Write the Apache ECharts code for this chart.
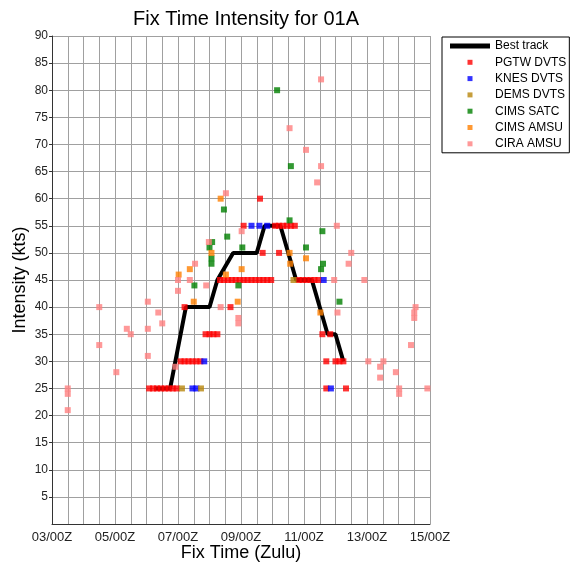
<!DOCTYPE html>
<html>
<head>
<meta charset="utf-8">
<script src="https://cdn.jsdelivr.net/npm/echarts@6/dist/echarts.min.js"></script>
<style>
  html, body { margin: 0; padding: 0; background: #fff; }
  #chart { width: 576px; height: 565px; }
</style>
</head>
<body>
<div id="chart"></div>
<script>
// x = hours after 03/00Z, y = intensity in kts
const START_DAY = 3;
const SPAN_HOURS = 288; // 03/00Z .. 15/00Z

const bestTrack = [[78, 25], [90, 25], [102, 40], [120, 40], [126, 45], [138, 50], [156, 50],
  [162, 55], [174, 55], [186, 45], [198, 45], [210, 35], [216, 35], [222, 30]];

const pgtwDvts = [
  [74, 25], [77, 25], [80, 25], [83, 25], [86, 25], [89, 25], [92, 25], [95, 25],
  [98, 30], [101, 30], [104, 30], [107, 30], [110, 30], [113, 30],
  [117, 35], [120, 35], [123, 35], [126, 35],
  [101, 40], [136, 40],
  [128, 45], [131, 45], [134, 45], [137, 45], [140, 45], [143, 45], [146, 45], [149, 45],
  [152, 45], [155, 45], [158, 45], [161, 45], [164, 45], [167, 45],
  [146, 55], [158.5, 60], [160.5, 50], [173, 50],
  [170, 55], [173, 55], [176, 55], [179, 55], [182, 55], [185, 55],
  [188, 45], [191, 45], [194, 45], [197, 45], [200, 45], [203, 45],
  [206, 35], [212, 35], [209, 30], [216, 30], [219, 30], [222, 30], [209, 25], [224, 25]
];
const knesDvts = [[107, 25], [110, 25], [116, 30], [152, 55], [158, 55], [164, 55], [207, 45], [212.5, 25]];
const demsDvts = [[99, 25], [113.5, 25], [184, 45]];
const cimsSatc = [[108.5, 44], [120, 51], [121.5, 49], [121.5, 48], [122, 52], [131, 58], [133.5, 53],
  [142, 44], [145, 51], [171.5, 80], [181, 56], [182, 66], [193.5, 51], [205, 47], [206.5, 48],
  [206, 54], [219, 41]];
const cimsAmsu = [[96.5, 46], [105, 47], [108, 41], [121.5, 50], [128.5, 60], [132.5, 46], [141.5, 41],
  [144.5, 47], [181, 50], [181.5, 48], [193.5, 49], [204.5, 39]];
const ciraAmsu = [[12, 25], [12, 24], [12, 21], [36, 40], [36, 33], [49, 28], [57, 36], [60, 35],
  [73, 41], [73, 36], [73, 31], [81, 39], [84, 37], [94, 29], [96, 45], [96, 43], [105, 45],
  [109, 48], [117.5, 44], [119.5, 52], [128.5, 40], [132.5, 61], [142, 38], [142, 37], [144.5, 54],
  [181, 73], [193.5, 69], [202, 63], [205, 82], [205, 66], [215, 45], [217, 55], [217.5, 39],
  [226, 48], [228, 50], [238, 45], [241, 30], [250, 29], [250, 27], [252.5, 30], [262, 28],
  [264.5, 25], [264.5, 24], [273.5, 33], [276, 39], [276, 38], [277, 40], [286, 25]];

const fixSeries = [
  { name: 'PGTW DVTS', data: pgtwDvts, color: '#ff0000' },
  { name: 'KNES DVTS', data: knesDvts, color: '#0000ff' },
  { name: 'DEMS DVTS', data: demsDvts, color: '#b8860b' },
  { name: 'CIMS SATC', data: cimsSatc, color: '#008000' },
  { name: 'CIMS AMSU', data: cimsAmsu, color: '#ff8000' },
  { name: 'CIRA AMSU', data: ciraAmsu, color: '#ff8080' }
];

const FONT = 'Liberation Sans';
const SQUARE = 'path://M0,0L10,0L10,10L0,10Z';
const BAR = 'path://M0,0L40,0L40,5L0,5Z';

function dayLabel(v) {
  if (v % 48 !== 0) return '';
  const d = START_DAY + v / 24;
  return (d < 10 ? '0' : '') + d + '/00Z';
}

const chart = echarts.init(document.getElementById('chart'), null, { renderer: 'canvas' });
chart.setOption({
  animation: false,
  backgroundColor: '#fff',
  textStyle: { fontFamily: FONT },
  title: {
    text: 'Fix Time Intensity for 01A',
    left: 241,
    textAlign: 'center',
    top: 4,
    textStyle: { fontFamily: FONT, fontSize: 20, fontWeight: 'normal', color: '#000' }
  },
  legend: {
    orient: 'vertical',
    left: 442,
    top: 37,
    padding: [3, 3, 3, 8],
    itemGap: 4.3,
    itemWidth: 40,
    itemHeight: 5,
    borderColor: '#000',
    borderWidth: 1,
    textStyle: { fontFamily: FONT, fontSize: 12, color: '#000' },
    data: [{ name: 'Best track', icon: BAR, itemStyle: { color: '#000' } }]
      .concat(fixSeries.map(s => ({ name: s.name, icon: SQUARE })))
  },
  grid: { left: 52, top: 36, right: 146, bottom: 41, outerBoundsMode: 'none', containLabel: false },
  xAxis: {
    type: 'value',
    min: 0,
    max: SPAN_HOURS,
    interval: 12,
    name: 'Fix Time (Zulu)',
    nameLocation: 'middle',
    nameGap: 20,
    nameMoveOverlap: false,
    nameTextStyle: { fontFamily: FONT, fontSize: 18, color: '#000' },
    axisLine: { lineStyle: { color: '#333', width: 1 } },
    axisTick: { show: false },
    axisLabel: { formatter: dayLabel, fontFamily: FONT, fontSize: 13, color: '#222', margin: 7, showMaxLabel: true },
    splitLine: { lineStyle: { color: '#a0a0a0', width: 1 } }
  },
  yAxis: {
    type: 'value',
    min: 0,
    max: 90,
    interval: 5,
    name: 'Intensity (kts)',
    nameLocation: 'middle',
    nameGap: 23,
    nameMoveOverlap: false,
    nameTextStyle: { fontFamily: FONT, fontSize: 18, color: '#000' },
    axisLine: { show: true, lineStyle: { color: '#333', width: 1 } },
    axisTick: { show: true, length: 3, lineStyle: { color: '#333' } },
    axisLabel: { showMinLabel: false, fontFamily: FONT, fontSize: 12, color: '#222', margin: 4 },
    splitLine: { lineStyle: { color: '#a0a0a0', width: 1 } }
  },
  series: [{
    name: 'Best track',
    type: 'line',
    z: 1,
    data: bestTrack,
    showSymbol: false,
    symbol: 'none',
    color: '#000',
    lineStyle: { color: '#000', width: 4 }
  }].concat(fixSeries.map(s => ({
    name: s.name,
    type: 'scatter',
    z: 3,
    data: s.data,
    symbol: 'rect',
    symbolSize: 6,
    itemStyle: { color: s.color }
  })))
});
</script>
</body>
</html>
